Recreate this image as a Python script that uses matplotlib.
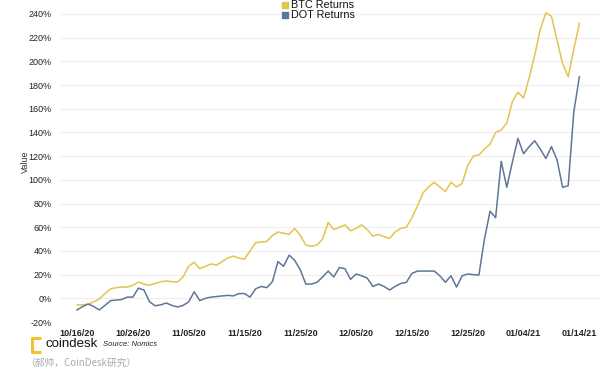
import matplotlib
matplotlib.use('Agg')

import pandas as pd
import numpy as np
import matplotlib.pyplot as plt
import matplotlib.dates as mdates
from matplotlib.lines import Line2D

# daily returns since 10/16/20 (percent)
start_date = '2020-10-16'
btc_returns = [-5.6, -5.5, -5, -3, -0.6, 4, 8, 9, 9.5, 9.5,
               11, 13.7, 12, 11, 12.5, 14, 14.6, 14, 13.7, 18,
               27, 30.5, 25, 27, 29, 28, 31, 34, 35.6, 34,
               33, 40, 47, 47.5, 48, 53, 56, 55, 54, 59,
               53, 45, 44, 45, 50, 64, 58, 60, 62, 57,
               59, 62, 58, 52.5, 54, 52, 50.6, 56, 59, 60,
               68, 78, 89, 94, 98, 94, 90, 98, 94, 97,
               112, 120, 121, 126, 130, 140, 142, 148, 166, 174,
               169, 186, 205, 227, 241, 238, 218, 198, 187, 210,
               232]
dot_returns = [-9.8, -7, -4.8, -7, -9.8, -6, -2, -1.5, -1, 1,
               1, 8.6, 7, -3, -6.3, -5.5, -4, -6, -7.3, -6,
               -3, 5.5, -2, 0, 1, 1.5, 2, 2.5, 2, 4,
               4, 1, 8, 10, 9, 14, 31, 27, 36.4, 32,
               24, 12, 12, 13.5, 18, 23, 18, 26, 25, 16,
               20.5, 19, 17, 10, 12, 10, 7, 10, 12.5, 13.5,
               21, 23, 23, 23, 23, 19, 13.5, 19, 9.5, 19,
               20.5, 20, 19.6, 50, 73.5, 68, 115.6, 93.7, 115, 135,
               122, 128, 133, 126, 118, 128, 117, 93.7, 95, 157,
               187]
y_ticks = [-20, 0, 20, 40, 60, 80, 100, 120, 140, 160, 180, 200, 220, 240]
x_ticks = ['2020-10-16', '2020-10-26', '2020-11-05', '2020-11-15', '2020-11-25',
           '2020-12-05', '2020-12-15', '2020-12-25', '2021-01-04', '2021-01-14']

btc_color = '#E3C44F'
dot_color = '#5F7699'

plt.rcParams['font.family'] = ['Liberation Sans', 'DejaVu Sans']

dates = pd.date_range(start_date, periods=len(btc_returns), freq='D')
df = pd.DataFrame({'BTC': btc_returns, 'DOT': dot_returns}, index=dates)

fig = plt.figure(figsize=(6, 3.69), dpi=100)
# axes spans the plot area of the screenshot, cropped at top and right
ax = fig.add_axes([60 / 600, 47 / 369, 540 / 600, 322 / 369])

ax.plot(df.index, df.BTC, color=btc_color, linewidth=1.1)
ax.plot(df.index, df.DOT, color=dot_color, linewidth=1.1)

x0 = pd.Timestamp(start_date)
ax.set_xlim(x0 - pd.Timedelta(days=3.05), x0 + pd.Timedelta(days=93.7))
ax.set_ylim(-20, 251.8)

ax.set_yticks(y_ticks)
ax.set_yticklabels(['{0}%'.format(t) for t in y_ticks])
ax.set_xticks(pd.to_datetime(x_ticks))
ax.xaxis.set_major_formatter(mdates.DateFormatter('%m/%d/%y'))

ax.tick_params(axis='both', length=0, labelsize=6.5, colors='#222222')
ax.tick_params(axis='x', pad=5)
ax.tick_params(axis='y', pad=6)
for lab in ax.get_xticklabels():
    lab.set_fontweight('bold')

ax.yaxis.grid(True, color='#EEEEEE', linewidth=0.8)
ax.get_ygridlines()[0].set_visible(False)
ax.set_axisbelow(True)
for s in ax.spines.values():
    s.set_visible(False)

fig.text(25 / 600, 1 - 162 / 369, 'Value', rotation=90, fontsize=6.5,
         ha='center', va='center', color='#333333')

# legend, at the very top edge as in the screenshot
for label, color, ypx in [('BTC Returns', btc_color, 4.5), ('DOT Returns', dot_color, 14.5)]:
    fig.add_artist(Line2D([285 / 600], [1 - ypx / 369], marker='s', markersize=4.5,
                          color=color, linestyle='none', transform=fig.transFigure))
    fig.text(291 / 600, 1 - ypx / 369, label, fontsize=7.8, ha='left', va='center',
             color='#111111')

# coindesk logo mark
logo_x = [41 / 600, 32 / 600, 32 / 600, 41 / 600]
logo_y = [1 - 338 / 369, 1 - 338 / 369, 1 - 352 / 369, 1 - 352 / 369]
fig.add_artist(Line2D(logo_x, logo_y, color='#F2C230', linewidth=2.2,
                      transform=fig.transFigure, solid_capstyle='butt'))
fig.text(46 / 600, 1 - 344 / 369, 'coindesk', fontsize=9.5, ha='left', va='center',
         color='#111111')
fig.text(103 / 600, 1 - 345 / 369, 'Source: Nomics', fontsize=5.5, style='italic',
         ha='left', va='center', color='#222222')
fig.text(25 / 600, 1 - 363 / 369, '（郝帅，CoinDesk研究）', fontsize=7, style='italic',
         ha='left', va='center', color='#AAAAAA',
         family=['Noto Sans CJK SC', 'DejaVu Sans'])

fig.savefig('out.png', dpi=100)
